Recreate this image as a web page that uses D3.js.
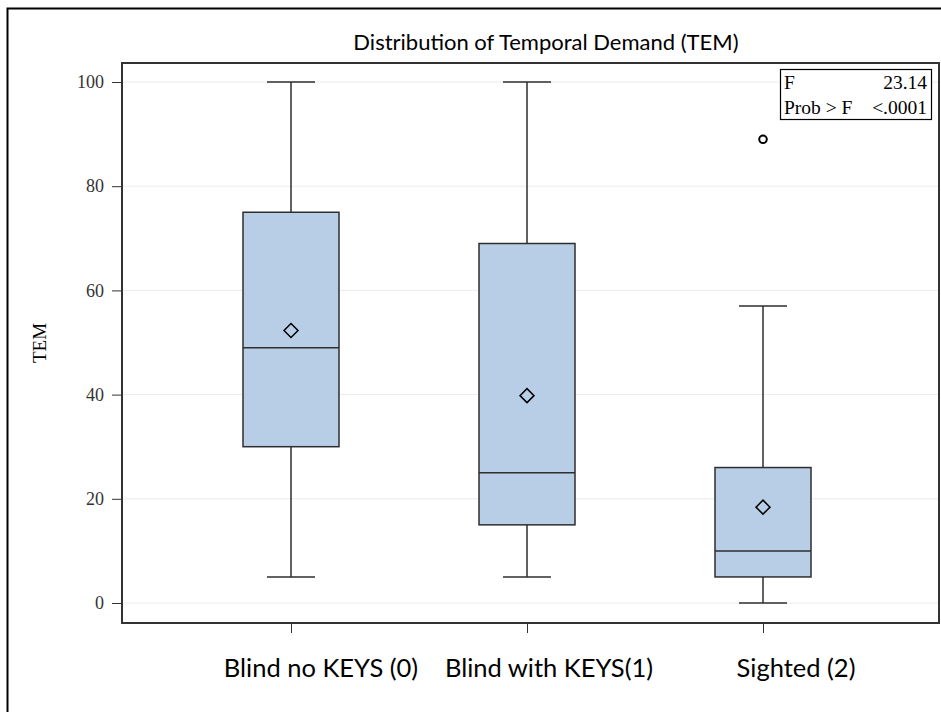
<!DOCTYPE html>
<html>
<head>
<meta charset="utf-8">
<script src="https://cdn.jsdelivr.net/npm/d3@7"></script>
<style>
  html, body { margin: 0; padding: 0; background: #fff; }
  svg { display: block; }
</style>
</head>
<body>
<svg id="chart" width="941" height="712"></svg>
<script>
// Group labels along the x axis
const categories = ["Blind no KEYS (0)", "Blind with KEYS(1)", "Sighted (2)"];
// Box statistics per group
const whiskerLow  = [5, 5, 0];
const q1          = [30, 15, 5];
const medians     = [49, 25, 10];
const q3          = [75, 69, 26];
const whiskerHigh = [100, 100, 57];
const means       = [52.3, 39.8, 18.4];
// Outlying observations: [group index, value]
const outliers = [[2, 89]];
// Y axis ticks
const yTicks = [0, 20, 40, 60, 80, 100];
// ANOVA inset
const statLabels = ["F", "Prob > F"];
const statValues = ["23.14", "<.0001"];

const svg = d3.select("#chart");
const plot = { left: 122, top: 63, right: 939, bottom: 623 };

const x = d3.scalePoint().domain(categories).range([291, 763]);
const y = d3.scaleLinear().domain([0, 100]).range([603, 82]);

// outer frame (top and left edges)
svg.append("path")
  .attr("d", "M7.5,712 V8.5 H941")
  .attr("fill", "none").attr("stroke", "#000").attr("stroke-width", 2);

// title
svg.append("text")
  .attr("x", 546).attr("y", 50)
  .attr("text-anchor", "middle")
  .attr("font-family", "Lato, 'Open Sans', sans-serif")
  .attr("font-size", 22)
  .attr("fill", "#000")
  .text("Distribution of Temporal Demand (TEM)");

// gridlines
svg.append("g").selectAll("line").data(yTicks).join("line")
  .attr("x1", plot.left).attr("x2", plot.right)
  .attr("y1", d => y(d)).attr("y2", d => y(d))
  .attr("stroke", "#ececec").attr("stroke-width", 1);

// boxes
const boxW = 96, capW = 48;
const groups = svg.append("g").selectAll("g").data(categories).join("g");
groups.each(function(cat, i) {
  const g = d3.select(this);
  const cx = x(cat);
  const stroke = "#2e2e2e";
  // whiskers
  g.append("line").attr("x1", cx).attr("x2", cx)
    .attr("y1", y(whiskerHigh[i])).attr("y2", y(q3[i]))
    .attr("stroke", stroke).attr("stroke-width", 1.5);
  g.append("line").attr("x1", cx).attr("x2", cx)
    .attr("y1", y(q1[i])).attr("y2", y(whiskerLow[i]))
    .attr("stroke", stroke).attr("stroke-width", 1.5);
  g.append("line").attr("x1", cx - capW / 2).attr("x2", cx + capW / 2)
    .attr("y1", y(whiskerHigh[i])).attr("y2", y(whiskerHigh[i]))
    .attr("stroke", stroke).attr("stroke-width", 1.5);
  g.append("line").attr("x1", cx - capW / 2).attr("x2", cx + capW / 2)
    .attr("y1", y(whiskerLow[i])).attr("y2", y(whiskerLow[i]))
    .attr("stroke", stroke).attr("stroke-width", 1.5);
  // box
  g.append("rect")
    .attr("x", cx - boxW / 2).attr("width", boxW)
    .attr("y", y(q3[i])).attr("height", y(q1[i]) - y(q3[i]))
    .attr("fill", "#b8cee7").attr("stroke", stroke).attr("stroke-width", 1.5);
  // median
  g.append("line").attr("x1", cx - boxW / 2).attr("x2", cx + boxW / 2)
    .attr("y1", y(medians[i])).attr("y2", y(medians[i]))
    .attr("stroke", stroke).attr("stroke-width", 1.5);
  // mean marker
  g.append("path")
    .attr("transform", `translate(${cx},${y(means[i])})`)
    .attr("d", "M0,-7 L7,0 L0,7 L-7,0 Z")
    .attr("fill", "none").attr("stroke", "#000").attr("stroke-width", 1.5);
});

// outliers
svg.append("g").selectAll("circle").data(outliers).join("circle")
  .attr("cx", d => x(categories[d[0]]))
  .attr("cy", d => y(d[1]))
  .attr("r", 3.8)
  .attr("fill", "none").attr("stroke", "#000").attr("stroke-width", 2);

// y axis
const yAxis = svg.append("g").attr("transform", `translate(${plot.left},0)`)
  .call(d3.axisLeft(y).tickValues(yTicks).tickSize(10).tickPadding(8));
yAxis.select(".domain").remove();
yAxis.selectAll("line").attr("stroke", "#333");
yAxis.selectAll("text")
  .attr("font-family", "'Liberation Serif', 'Times New Roman', serif")
  .attr("font-size", 18).attr("fill", "#333");

// x axis: ticks from the axis generator, category labels set beneath
const xAxis = svg.append("g").attr("transform", `translate(0,${plot.bottom})`)
  .call(d3.axisBottom(x).tickSize(10).tickFormat(""));
xAxis.select(".domain").remove();
xAxis.selectAll("line").attr("stroke", "#333");
const labelShift = [30, 22, 33];
svg.append("g").selectAll("text").data(categories).join("text")
  .attr("x", (d, i) => x(d) + labelShift[i])
  .attr("y", plot.bottom + 54)
  .attr("text-anchor", "middle")
  .attr("font-family", "Lato, 'Open Sans', sans-serif")
  .attr("font-size", 25.5).attr("fill", "#000")
  .text(d => d);

// plot frame
svg.append("rect")
  .attr("x", plot.left).attr("y", plot.top)
  .attr("width", plot.right - plot.left).attr("height", plot.bottom - plot.top)
  .attr("fill", "none").attr("stroke", "#333").attr("stroke-width", 2);

// y axis title
svg.append("text")
  .attr("transform", `translate(46,${(plot.top + plot.bottom) / 2}) rotate(-90)`)
  .attr("text-anchor", "middle")
  .attr("font-family", "'Liberation Serif', 'Times New Roman', serif")
  .attr("font-size", 19).attr("fill", "#000")
  .text("TEM");

// inset statistics table
const inset = svg.append("g");
inset.append("rect")
  .attr("x", 780.5).attr("y", 69.5).attr("width", 151).attr("height", 50)
  .attr("fill", "#fff").attr("stroke", "#000").attr("stroke-width", 1.2);
statLabels.forEach((lab, i) => {
  inset.append("text")
    .attr("x", 784).attr("y", 89 + i * 25)
    .attr("font-family", "'Liberation Serif', 'Times New Roman', serif")
    .attr("font-size", 19.5).attr("fill", "#000")
    .text(lab);
  inset.append("text")
    .attr("x", 927).attr("y", 89 + i * 25)
    .attr("text-anchor", "end")
    .attr("font-family", "'Liberation Serif', 'Times New Roman', serif")
    .attr("font-size", 19.5).attr("fill", "#000")
    .text(statValues[i]);
});
</script>
</body>
</html>
